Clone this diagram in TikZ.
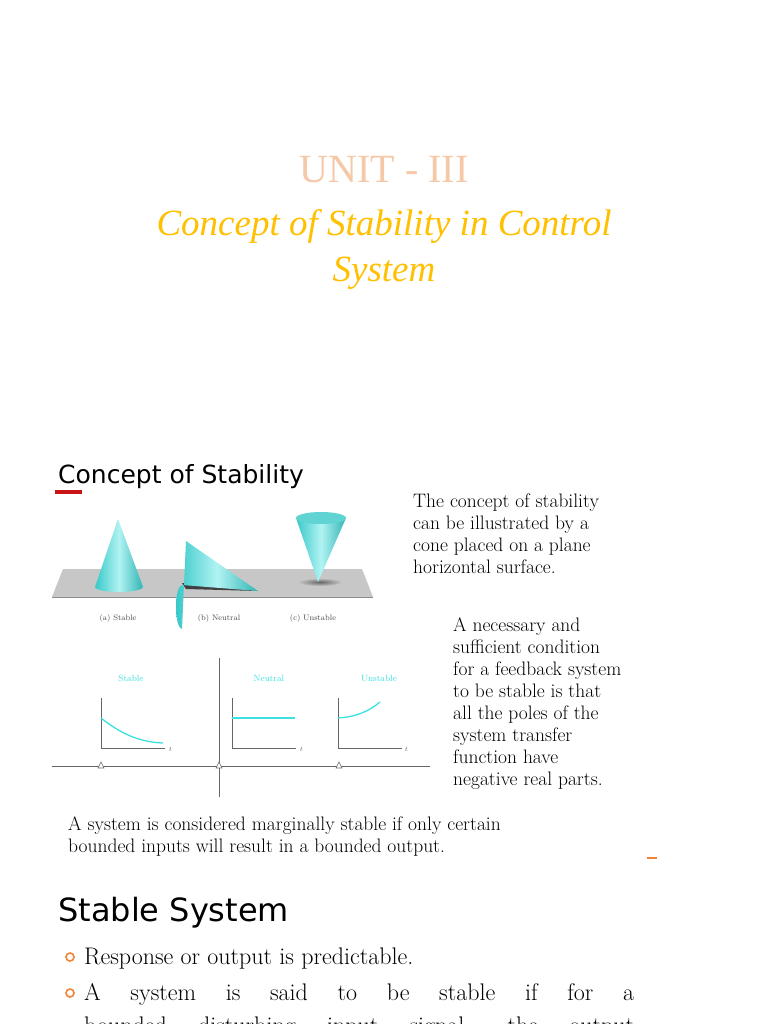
\documentclass[tikz,border=0pt]{standalone}
\usepackage{fontspec}
\newfontfamily\dvs{DejaVu Sans}
\newfontfamily\lser{Liberation Serif}
\definecolor{peach}{RGB}{246,200,168}
\definecolor{gold}{RGB}{255,192,0}
\definecolor{conec}{RGB}{56,200,200}
\definecolor{cyanl}{RGB}{60,225,225}
\definecolor{orng}{RGB}{240,130,50}
\definecolor{redbar}{RGB}{200,20,20}
\begin{document}
\begin{tikzpicture}[x=1pt,y=-1pt,
  body/.style={anchor=base west,inner sep=0pt,font=\fontsize{19.5}{22}\selectfont},
  captxt/.style={anchor=base,inner sep=0pt,font=\fontsize{8}{9}\selectfont,text=black!70},
  glab/.style={anchor=base,inner sep=0pt,font=\fontsize{9}{10}\selectfont,text=cyanl},
  axis/.style={draw=black!60,line width=0.7pt},
  curve/.style={draw=cyanl,line width=1.3pt},
  conefill/.style={left color=conec,right color=conec!90!black,middle color=cyanl!40!white}]
\useasboundingbox (0,0) rectangle (768,1024);
\fill[white] (0,0) rectangle (768,1024);
\clip (0,0) rectangle (768,1024);
% titles
\node[text=peach,font=\lser\fontsize{40}{44}\selectfont] (t1) at (384,170) {UNIT - III};
\node[text=gold,font=\lser\itshape\fontsize{37}{46}\selectfont,align=center] (t2) at (384,249) {Concept of Stability in Control\\System};
% section heading
\node[anchor=base west,inner sep=0pt,font=\dvs\fontsize{25}{28}\selectfont] (h1) at (58,483) {Concept of Stability};
\fill[redbar] (55,490) rectangle (82,494);
% plane
\fill[black!22] (63,569) -- (362,569) -- (373,597) -- (52,597) -- cycle;
\draw[black!45,line width=0.8pt] (52,597) -- (373,597);
% stable cone
\shade[conefill] (95,587) -- (118,519) -- (143,587) arc[start angle=0,end angle=180,x radius=24,y radius=5] -- cycle;
% neutral cone
\fill[black!75] (182,583) -- (258,591) -- (186,589) -- cycle;
\shade[conefill] (186,541) -- (258,591) -- (182,585) arc[start angle=90,end angle=270,x radius=6,y radius=-22] -- cycle;
% unstable cone
\shade[inner color=black!60,outer color=black!22] (320,582) ellipse[x radius=22,y radius=4];
\shade[conefill] (296,518) -- (346,518) -- (318,582) -- cycle;
\fill[conec!80!white] (321,518) ellipse[x radius=25,y radius=6];
% captions
\node[captxt] (c1) at (118,620) {(a) Stable};
\node[captxt] (c2) at (219,620) {(b) Neutral};
\node[captxt] (c3) at (313,620) {(c) Unstable};
% graphs
\draw[axis] (219,658) -- (219,797);
\draw[axis] (52,766) -- (430,766);
\foreach \xx in {101,219,339}{\draw[black!60,fill=white,line width=0.6pt] (\xx-3,768) -- (\xx+3,768) -- (\xx,762) -- cycle;}
\draw[axis] (101,698) -- (101,748) -- (165,748);
\draw[axis] (232,698) -- (232,748) -- (296,748);
\draw[axis] (338,698) -- (338,748) -- (402,748);
\node[anchor=base,inner sep=0pt,font=\itshape\fontsize{7}{8}\selectfont,text=black!60] at (170,751) {t};
\node[anchor=base,inner sep=0pt,font=\itshape\fontsize{7}{8}\selectfont,text=black!60] at (301,751) {t};
\node[anchor=base,inner sep=0pt,font=\itshape\fontsize{7}{8}\selectfont,text=black!60] at (406,751) {t};
\draw[curve] (101,718) .. controls (120,733) and (138,742) .. (163,743);
\draw[curve] (232,718) -- (295,718);
\draw[curve] (338,718) .. controls (355,717) and (368,712) .. (380,702);
\node[glab] (g1) at (131,681) {Stable};
\node[glab] (g2) at (269,681) {Neutral};
\node[glab] (g3) at (379,681) {Unstable};
% right texts
\node[body,align=left,anchor=north west] (r1) at (413,494) {The concept of stability\\can be illustrated by a\\cone placed on a plane\\horizontal surface.};
\node[body,align=left,anchor=north west] (r2) at (453,618) {A necessary and\\sufficient condition\\for a feedback system\\to be stable is that\\all the poles of the\\system transfer\\function have\\negative real parts.};
\node[body,align=left,anchor=north west] (r3) at (68,817) {A system is considered marginally stable if only certain\\bounded inputs will result in a bounded output.};
\fill[orng] (647,857) rectangle (657,859);
% stable system
\node[anchor=base west,inner sep=0pt,font=\dvs\fontsize{32}{36}\selectfont] (h2) at (58,921) {Stable System};
\draw[orng,line width=1.6pt] (70,957) circle[radius=4];
\draw[orng,line width=1.6pt] (70,993) circle[radius=4];
\node[anchor=base west,inner sep=0pt,font=\fontsize{24}{28}\selectfont] (b1) at (84,964) {Response or output is predictable.};
\node[anchor=base west,inner sep=0pt,font=\fontsize{24}{28}\selectfont] (b2) at (84,1000) {\makebox[550pt][s]{A system is said to be stable if for a}};
\node[anchor=base west,inner sep=0pt,font=\fontsize{24}{28}\selectfont] (b3) at (84,1033) {\makebox[550pt][s]{bounded disturbing input signal, the output}};
\end{tikzpicture}
\end{document}
